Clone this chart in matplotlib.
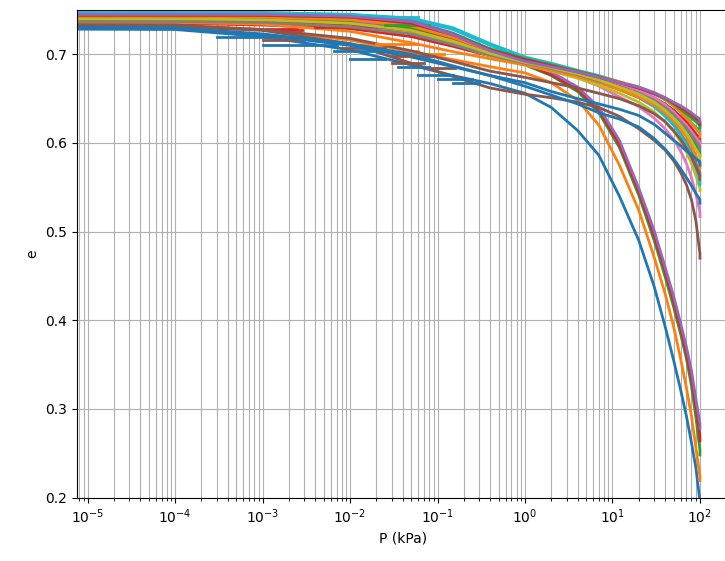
import numpy as np
import matplotlib
matplotlib.use("Agg")
import matplotlib.pyplot as plt

# pressure levels (kPa) where e was read for every curve; the first point sits left of the axis
p_grid = [1e-7, 1e-4, 1e-3, 1e-2, 0.05, 0.15, 0.4,
          1, 2, 4, 7, 12, 20, 30, 40, 50, 60, 70, 80, 90, 100, 100]

# void ratio of each run at the pressures above (25 runs, default colour cycle)
e_runs = [
    [0.729, 0.728, 0.720, 0.705, 0.688, 0.676, 0.667, 0.656, 0.640, 0.614, 0.586, 0.540, 0.490, 0.438, 0.393, 0.355, 0.322, 0.292, 0.262, 0.233, 0.196, 0.190],
    [0.733, 0.732, 0.728, 0.716, 0.703, 0.694, 0.686, 0.679, 0.668, 0.648, 0.620, 0.575, 0.524, 0.471, 0.430, 0.393, 0.357, 0.324, 0.292, 0.256, 0.224, 0.219],
    [0.740, 0.740, 0.738, 0.734, 0.724, 0.711, 0.699, 0.688, 0.676, 0.658, 0.634, 0.595, 0.541, 0.490, 0.449, 0.415, 0.385, 0.357, 0.326, 0.290, 0.254, 0.248],
    [0.735, 0.735, 0.733, 0.729, 0.720, 0.709, 0.698, 0.689, 0.677, 0.660, 0.637, 0.598, 0.545, 0.495, 0.455, 0.421, 0.391, 0.363, 0.334, 0.302, 0.270, 0.264],
    [0.742, 0.742, 0.740, 0.736, 0.726, 0.713, 0.701, 0.691, 0.680, 0.663, 0.640, 0.603, 0.549, 0.501, 0.460, 0.427, 0.397, 0.370, 0.343, 0.311, 0.283, 0.278],
    [0.732, 0.731, 0.727, 0.712, 0.690, 0.675, 0.662, 0.655, 0.651, 0.646, 0.640, 0.630, 0.616, 0.603, 0.592, 0.580, 0.567, 0.553, 0.536, 0.512, 0.475, 0.470],
    [0.741, 0.741, 0.740, 0.736, 0.728, 0.715, 0.700, 0.690, 0.683, 0.674, 0.664, 0.652, 0.641, 0.628, 0.616, 0.604, 0.591, 0.577, 0.561, 0.542, 0.522, 0.517],
    [0.743, 0.743, 0.742, 0.738, 0.731, 0.718, 0.703, 0.692, 0.685, 0.677, 0.669, 0.660, 0.651, 0.641, 0.631, 0.621, 0.611, 0.601, 0.590, 0.578, 0.567, 0.564],
    [0.738, 0.738, 0.737, 0.733, 0.725, 0.712, 0.698, 0.688, 0.681, 0.673, 0.665, 0.656, 0.646, 0.635, 0.624, 0.613, 0.602, 0.590, 0.577, 0.563, 0.549, 0.546],
    [0.747, 0.747, 0.747, 0.745, 0.740, 0.728, 0.710, 0.695, 0.687, 0.679, 0.670, 0.661, 0.652, 0.641, 0.630, 0.620, 0.609, 0.598, 0.586, 0.572, 0.557, 0.553],
    [0.730, 0.729, 0.722, 0.710, 0.697, 0.686, 0.676, 0.664, 0.654, 0.644, 0.634, 0.627, 0.618, 0.605, 0.593, 0.582, 0.571, 0.561, 0.552, 0.543, 0.536, 0.532],
    [0.736, 0.736, 0.734, 0.726, 0.713, 0.703, 0.695, 0.688, 0.682, 0.675, 0.668, 0.660, 0.652, 0.643, 0.634, 0.625, 0.616, 0.607, 0.597, 0.586, 0.576, 0.572],
    [0.742, 0.742, 0.741, 0.737, 0.730, 0.718, 0.703, 0.693, 0.686, 0.679, 0.672, 0.665, 0.657, 0.648, 0.640, 0.632, 0.624, 0.615, 0.607, 0.598, 0.590, 0.586],
    [0.739, 0.739, 0.738, 0.734, 0.727, 0.716, 0.702, 0.692, 0.686, 0.679, 0.673, 0.666, 0.659, 0.651, 0.644, 0.637, 0.630, 0.624, 0.617, 0.610, 0.605, 0.601],
    [0.746, 0.746, 0.746, 0.744, 0.738, 0.724, 0.706, 0.694, 0.687, 0.680, 0.674, 0.667, 0.661, 0.655, 0.649, 0.643, 0.638, 0.634, 0.630, 0.626, 0.622, 0.619],
    [0.734, 0.733, 0.728, 0.718, 0.704, 0.692, 0.681, 0.674, 0.668, 0.662, 0.656, 0.650, 0.642, 0.633, 0.624, 0.614, 0.604, 0.594, 0.584, 0.573, 0.563, 0.559],
    [0.744, 0.744, 0.743, 0.740, 0.733, 0.720, 0.705, 0.694, 0.688, 0.681, 0.674, 0.667, 0.659, 0.651, 0.643, 0.635, 0.627, 0.620, 0.613, 0.606, 0.601, 0.597],
    [0.737, 0.737, 0.736, 0.731, 0.723, 0.711, 0.699, 0.690, 0.684, 0.677, 0.670, 0.663, 0.656, 0.648, 0.640, 0.632, 0.624, 0.617, 0.609, 0.602, 0.596, 0.592],
    [0.740, 0.740, 0.739, 0.735, 0.727, 0.715, 0.701, 0.691, 0.685, 0.678, 0.671, 0.663, 0.655, 0.646, 0.637, 0.628, 0.620, 0.611, 0.602, 0.593, 0.586, 0.582],
    [0.747, 0.747, 0.747, 0.745, 0.741, 0.730, 0.712, 0.697, 0.690, 0.682, 0.676, 0.669, 0.663, 0.656, 0.649, 0.642, 0.635, 0.629, 0.623, 0.618, 0.614, 0.611],
    [0.731, 0.730, 0.723, 0.712, 0.700, 0.687, 0.676, 0.668, 0.658, 0.650, 0.644, 0.638, 0.631, 0.621, 0.611, 0.603, 0.597, 0.591, 0.587, 0.582, 0.579, 0.575],
    [0.743, 0.743, 0.742, 0.739, 0.732, 0.719, 0.704, 0.694, 0.688, 0.681, 0.675, 0.669, 0.663, 0.656, 0.649, 0.642, 0.635, 0.628, 0.622, 0.616, 0.611, 0.607],
    [0.745, 0.745, 0.744, 0.742, 0.736, 0.723, 0.706, 0.695, 0.688, 0.681, 0.675, 0.668, 0.662, 0.656, 0.650, 0.644, 0.638, 0.633, 0.628, 0.624, 0.620, 0.617],
    [0.744, 0.744, 0.744, 0.742, 0.735, 0.722, 0.705, 0.694, 0.687, 0.680, 0.674, 0.668, 0.662, 0.656, 0.651, 0.645, 0.640, 0.636, 0.632, 0.628, 0.624, 0.621],
    [0.745, 0.745, 0.745, 0.743, 0.737, 0.722, 0.704, 0.692, 0.686, 0.680, 0.674, 0.668, 0.663, 0.657, 0.651, 0.646, 0.642, 0.638, 0.634, 0.630, 0.627, 0.624],
]

# noisy low-pressure excursions: run index, e, lowest P, highest P
spike_run = [0, 10, 20, 0, 10, 20, 3, 3, 23, 5, 5, 15, 1, 1, 11, 14, 9, 22, 13, 21, 15, 5, 10, 20]
spike_e = [0.719, 0.710, 0.704, 0.695, 0.686, 0.677, 0.727, 0.729, 0.745, 0.716, 0.707, 0.690,
           0.710, 0.704, 0.700, 0.735, 0.742, 0.733, 0.731, 0.712, 0.698, 0.684, 0.668, 0.672]
spike_lo = [3.0e-4, 1.0e-3, 6.5e-3, 1.0e-2, 0.035, 0.06, 1.0e-3, 1.1e-3, 2e-4, 1.0e-3, 8e-3, 0.03,
            0.012, 0.035, 0.05, 1e-2, 0.02, 0.025, 4e-3, 0.02, 0.03, 0.07, 0.15, 0.1]
spike_hi = [1.5e-3, 7e-3, 0.03, 0.025, 0.08, 0.15, 2.8e-3, 2.5e-3, 5e-4, 3e-3, 0.025, 0.07,
            0.02, 0.06, 0.12, 0.04, 0.06, 0.08, 0.02, 0.06, 0.09, 0.16, 0.3, 0.25]

colors = plt.rcParams['axes.prop_cycle'].by_key()['color']

fig = plt.figure(figsize=(7.25, 5.61), dpi=100)
ax = fig.add_axes([77 / 725, 63.5 / 561, 652 / 725, 487.5 / 561])

for i, e in enumerate(e_runs):
    c = colors[i % len(colors)]
    ax.plot(p_grid, e, color=c, lw=2)
    for k in range(len(spike_run)):
        if spike_run[k] == i:
            ax.plot([spike_lo[k], spike_hi[k]], [spike_e[k], spike_e[k]], color=c, lw=2)

ax.set_xscale('log')
ax.set_xlim(7.55e-6, 215)
ax.set_ylim(0.2, 0.75)
ax.grid(True, which='both')
ax.set_xlabel('P (kPa)')
ax.set_ylabel('e')

fig.savefig('out.png', dpi=100)
